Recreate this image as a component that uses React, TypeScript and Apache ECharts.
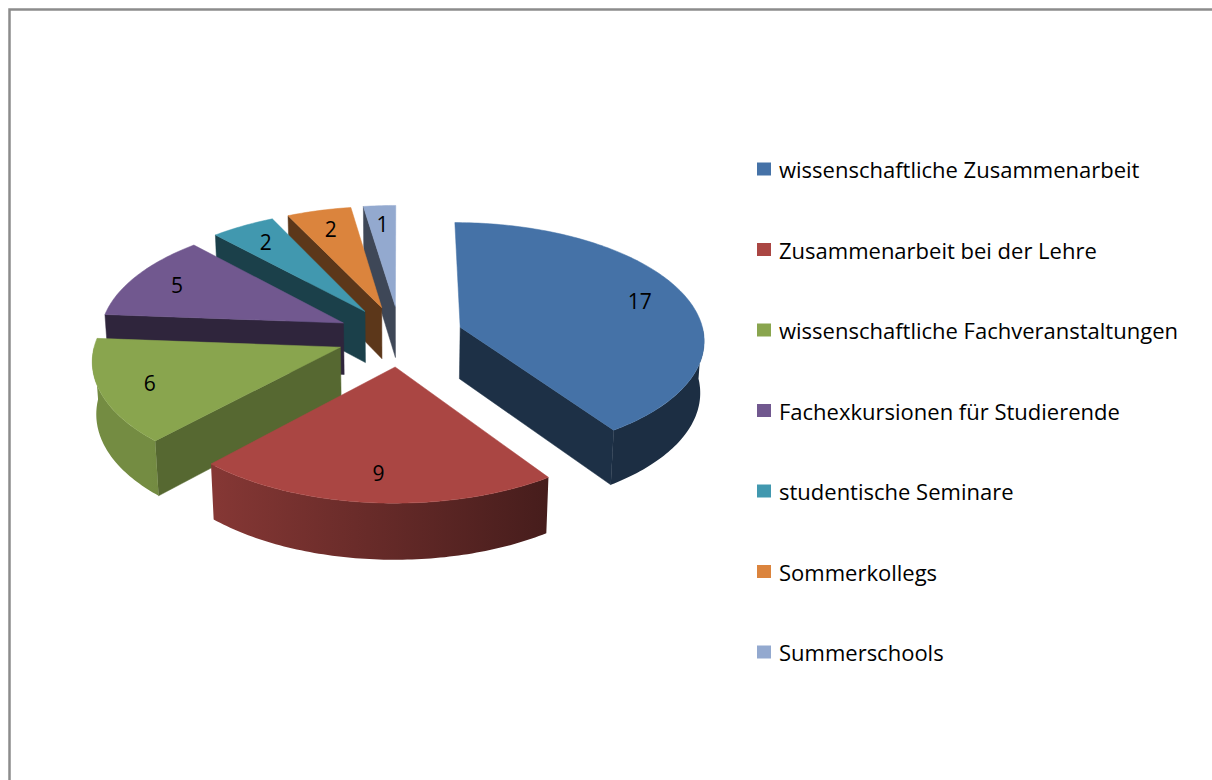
import React, { useEffect, useRef } from 'react';
import * as echarts from 'echarts';

const categories = [
  'wissenschaftliche Zusammenarbeit',
  'Zusammenarbeit bei der Lehre',
  'wissenschaftliche Fachveranstaltungen',
  'Fachexkursionen für Studierende',
  'studentische Seminare',
  'Sommerkollegs',
  'Summerschools',
];
const values = [17, 9, 6, 5, 2, 2, 1];
const colors = ['#4572A7', '#AA4643', '#89A54E', '#71588F', '#4198AF', '#DB843D', '#93A9CF'];

// 3D projection parameters
const CX = 400;
const CY = 336;
const SCALE = 244;
const TILT = (28.5 * Math.PI) / 180;
const PERSP = 9;
const EXPLODE = 0.26;
const THICK = 0.245;
const LABEL_R = 0.8;
const FONT = '"Open Sans", "Liberation Sans", sans-serif';

function project(X: number, D: number, H: number): number[] {
  const c = Math.cos(TILT);
  const s = Math.sin(TILT);
  const dc = D * c + H * s;
  const p = PERSP / (PERSP - dc);
  const yw = D * s - H * c;
  return [CX + SCALE * X * p, CY + SCALE * yw * p];
}

function shade(hex: string, f: number): string {
  const n = parseInt(hex.slice(1), 16);
  const r = Math.round(((n >> 16) & 255) * f);
  const g = Math.round(((n >> 8) & 255) * f);
  const b = Math.round((n & 255) * f);
  return 'rgb(' + r + ',' + g + ',' + b + ')';
}

const total = values.reduce((a, b) => a + b, 0);

function sliceAngles(i: number) {
  let acc = 0;
  for (let j = 0; j < i; j++) acc += values[j];
  const a0 = (acc / total) * Math.PI * 2;
  const a1 = ((acc + values[i]) / total) * Math.PI * 2;
  return { a0, a1, am: (a0 + a1) / 2 };
}

function makeRenderItem(i: number) {
  return (params: any, api: any) => {
    const v = api.value(0);
    const { a0 } = sliceAngles(i);
    const a1 = a0 + (v / total) * Math.PI * 2;
    const am = (a0 + a1) / 2;
    const color = colors[i];
    const ox = EXPLODE * Math.sin(am);
    const od = -EXPLODE * Math.cos(am);
    const pt = (th: number, r: number, H: number) =>
      project(ox + r * Math.sin(th), od - r * Math.cos(th), H);
    const rim = (H: number, from: number, to: number) => {
      const n = Math.max(2, Math.ceil(Math.abs(to - from) / (Math.PI / 180)));
      const out: number[][] = [];
      for (let k = 0; k <= n; k++) out.push(pt(from + ((to - from) * k) / n, 1, H));
      return out;
    };
    const children: any[] = [];
    // cut faces
    const edges = [
      { th: a0, normal: a0 - Math.PI / 2 },
      { th: a1, normal: a1 + Math.PI / 2 },
    ];
    edges.forEach((e) => {
      if (-Math.cos(e.normal) > 0.02) {
        const nn = ((e.normal % (Math.PI * 2)) + Math.PI * 2) % (Math.PI * 2);
        const f = nn < Math.PI ? 0.63 : 0.42;
        children.push({
          type: 'polygon',
          shape: {
            points: [pt(0, 0, 0), pt(e.th, 1, 0), pt(e.th, 1, -THICK), pt(0, 0, -THICK)],
          },
          style: { fill: shade(color, f), stroke: shade(color, f), lineWidth: 0.5 },
          z2: 1,
        });
      }
    });
    // outer wall
    const lo = Math.max(a0, Math.PI / 2);
    const hi = Math.min(a1, (Math.PI * 3) / 2);
    if (lo < hi) {
      const pts = rim(0, lo, hi).concat(rim(-THICK, hi, lo));
      const grad = {
        type: 'linear',
        x: 150,
        y: 0,
        x2: 560,
        y2: 0,
        global: true,
        colorStops: [
          { offset: 0, color: shade(color, 0.85) },
          { offset: 1, color: shade(color, 0.4) },
        ],
      };
      children.push({
        type: 'polygon',
        shape: { points: pts },
        style: { fill: grad },
        z2: 2,
      });
    }
    // top face
    children.push({
      type: 'polygon',
      shape: { points: [pt(0, 0, 0)].concat(rim(0, a0, a1)) },
      style: { fill: color, stroke: color, lineWidth: 0.5 },
      z2: 3,
    });
    const lp = pt(am, LABEL_R, 0);
    children.push({
      type: 'text',
      x: lp[0],
      y: lp[1],
      style: {
        text: String(v),
        align: 'center',
        verticalAlign: 'middle',
        fill: '#000',
        fontSize: 21,
        fontFamily: FONT,
      },
      z2: 10,
    });
    return { type: 'group', children };
  };
}

export default function App() {
  const ref = useRef<HTMLDivElement>(null);
  useEffect(() => {
    if (!ref.current) return;
    const chart = echarts.init(ref.current, undefined, { renderer: 'svg' });
    const depth = values.map((_, i) => -Math.cos(sliceAngles(i).am));
    const order = values.map((_, i) => i).sort((a, b) => depth[a] - depth[b]);
    const rank: number[] = [];
    order.forEach((idx, r) => (rank[idx] = r));
    const series = categories.map((name, i) => ({
      type: 'custom',
      name,
      coordinateSystem: 'none',
      data: [[values[i]]],
      itemStyle: { color: colors[i] },
      z: 2 + rank[i],
      silent: true,
      renderItem: makeRenderItem(i),
    }));
    chart.setOption({
      animation: false,
      backgroundColor: '#ffffff',
      legend: {
        orient: 'vertical',
        left: 757,
        top: 158,
        padding: 0,
        itemWidth: 14,
        itemHeight: 13,
        itemGap: 58.5,
        icon: 'rect',
        selectedMode: false,
        textStyle: {
          fontSize: 22,
          fontFamily: FONT,
          color: '#000',
          lineHeight: 22,
          padding: [0, 0, 0, 3],
        },
        data: categories,
      },
      graphic: [
        {
          type: 'rect',
          shape: { x: 9.5, y: 9.5, width: 1400, height: 1000 },
          style: { fill: 'none', stroke: '#8c8c8c', lineWidth: 2.5 },
          silent: true,
        },
      ],
      series,
    });
    return () => chart.dispose();
  }, []);
  return (
    <div
      ref={ref}
      style={{ position: 'fixed', left: 0, top: 0, width: 1212, height: 780, background: '#fff' }}
    />
  );
}
